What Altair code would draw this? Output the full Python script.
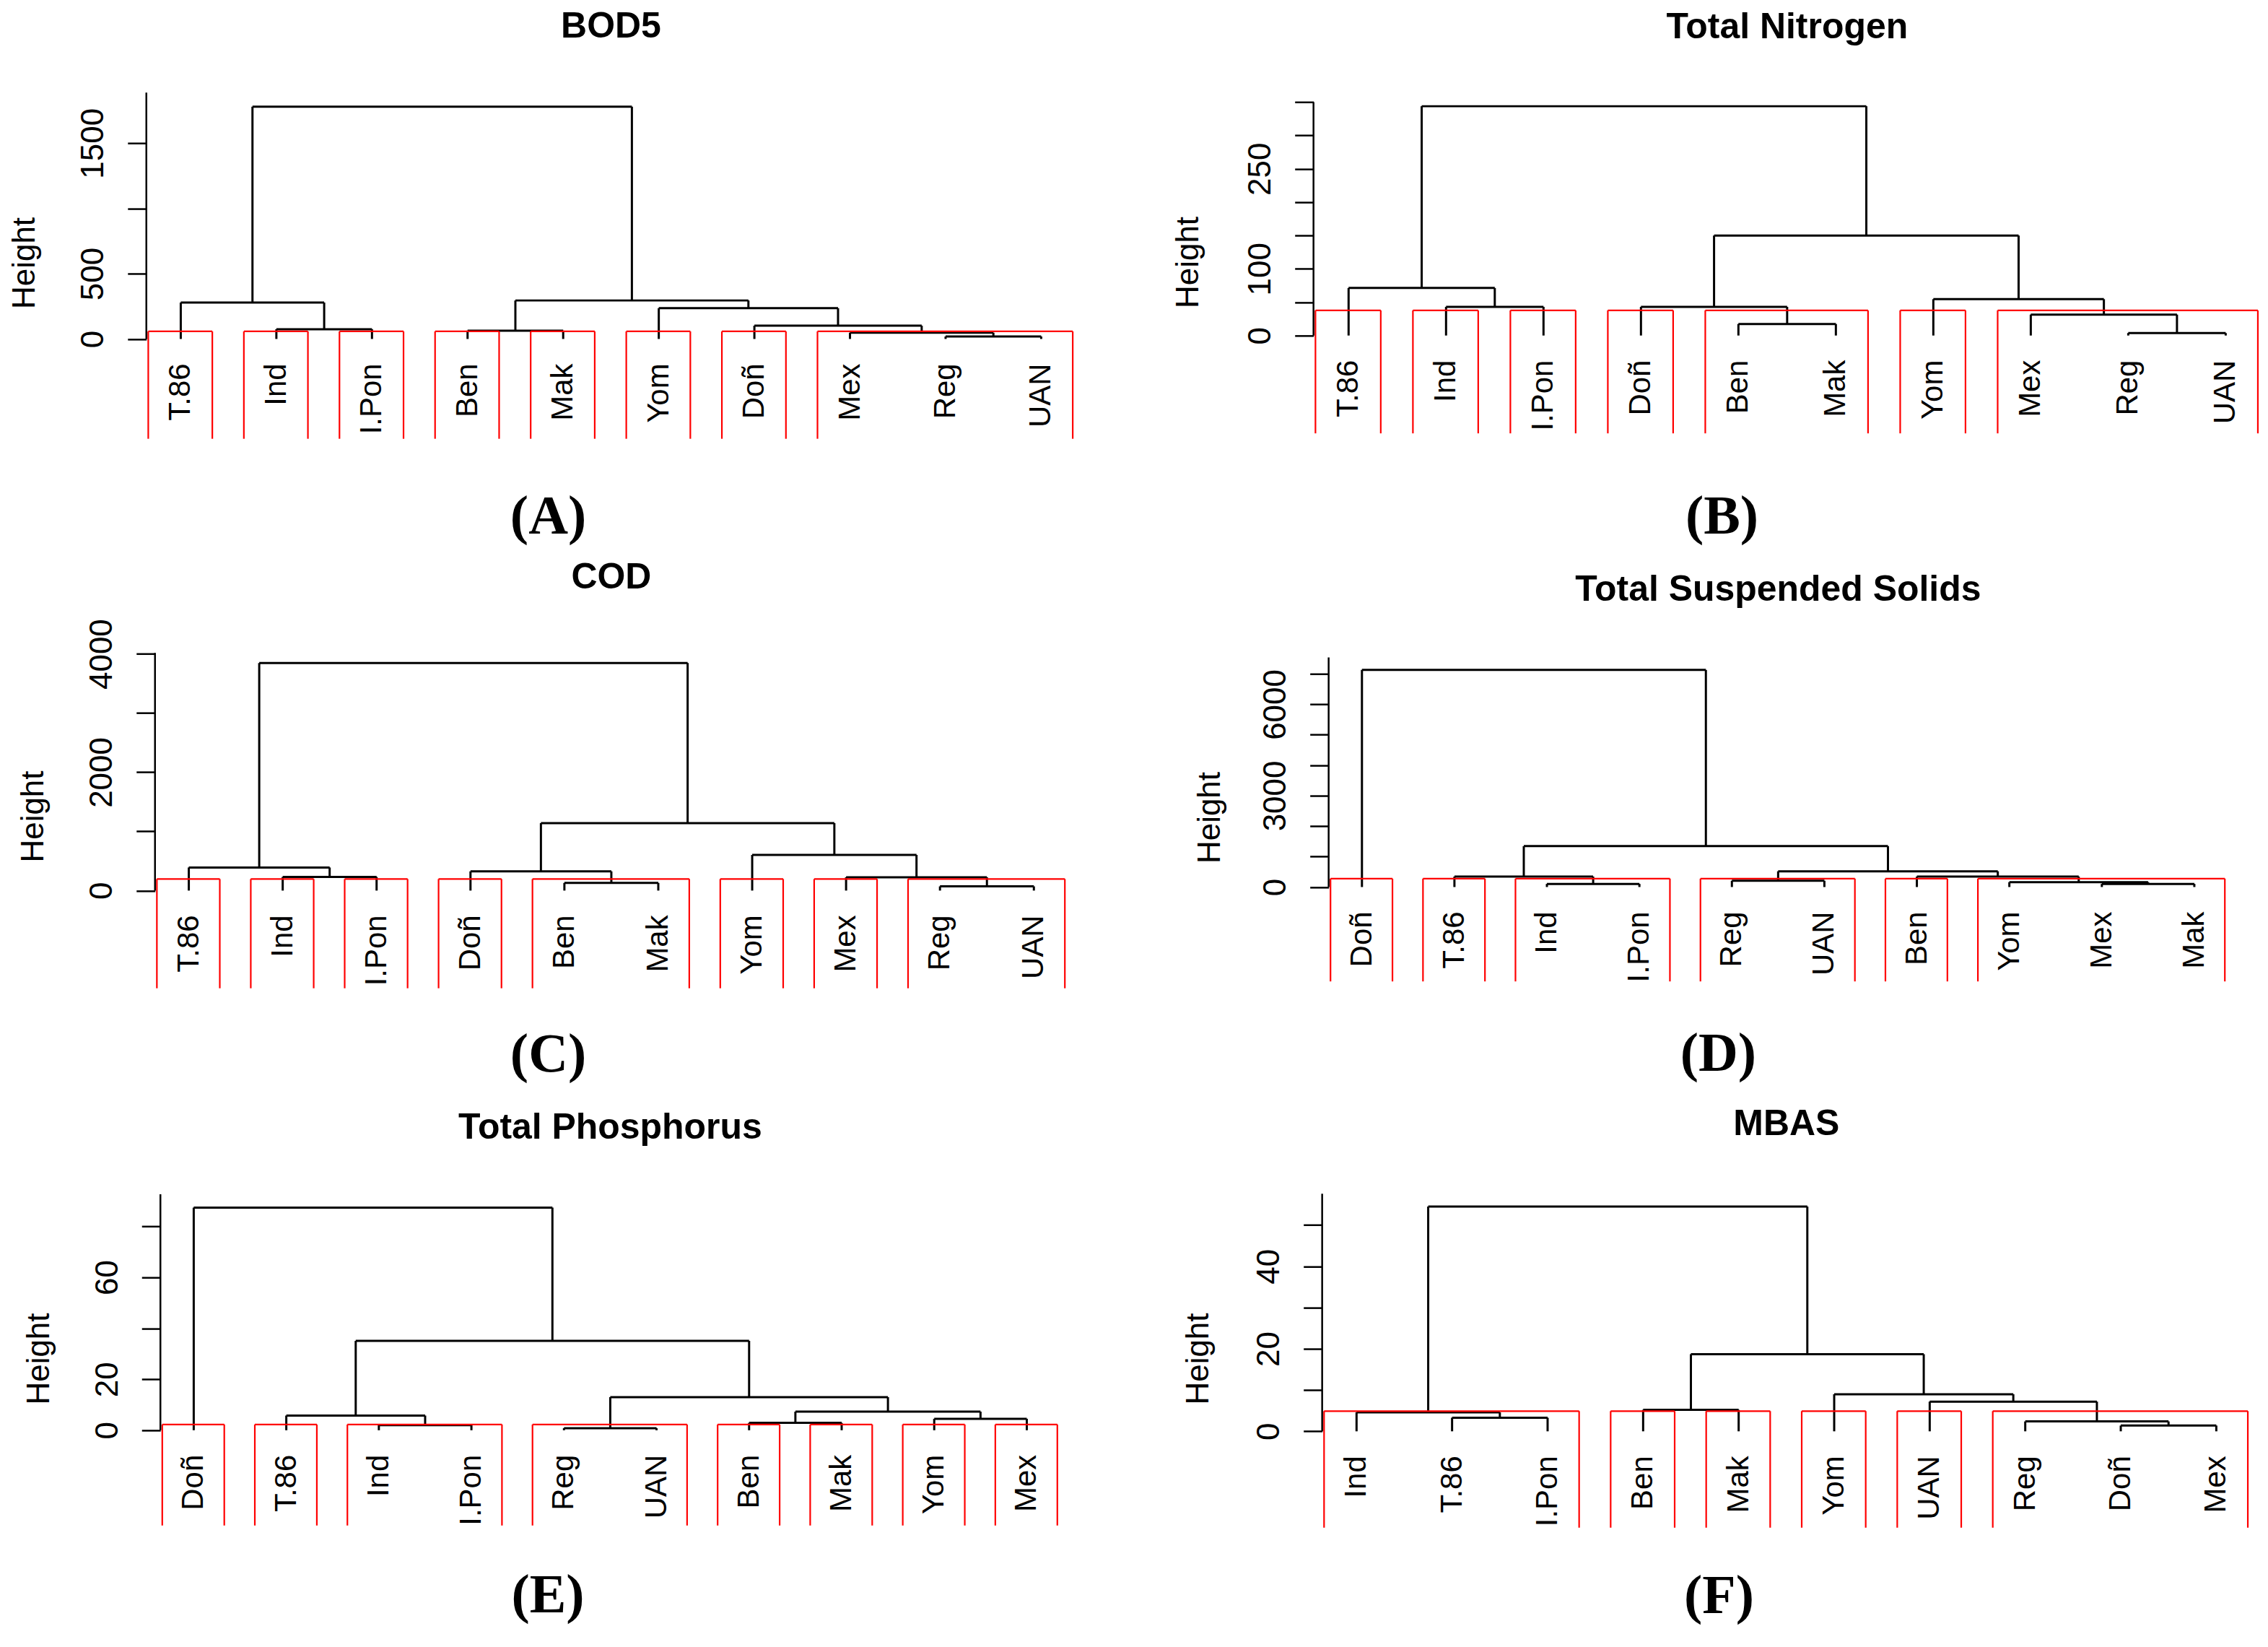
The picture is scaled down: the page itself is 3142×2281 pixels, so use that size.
import altair as alt
import pandas as pd

# ------------------------------------------------------------------
# Data (leaf order, merges in R hclust style:
# negative = leaf position, positive = earlier merge number)
# ------------------------------------------------------------------
A_leaves = ["T.86", "Ind", "I.Pon", "Ben", "Mak", "Yom", "Doñ", "Mex", "Reg", "UAN"]
A_left = [-9, -8, -4, -2, -7, -6, -1, 3, 7]
A_right = [-10, 1, -5, -3, 2, 5, 4, 6, 8]
A_height = [19, 48, 64, 75, 102, 236, 279, 295, 1779]
A_groups = [1, 1, 1, 1, 1, 1, 1, 3]
A_box_top = 58
A_ticks = [0, 500, 1000, 1500]
A_tick_labels = ["0", "500", "", "1500"]

B_leaves = ["T.86", "Ind", "I.Pon", "Doñ", "Ben", "Mak", "Yom", "Mex", "Reg", "UAN"]
B_left = [-9, -5, -8, -4, -2, -7, -1, 4, 7]
B_right = [-10, -6, 1, 2, -3, 3, 5, 6, 8]
B_height = [3.7, 17.3, 31.4, 43.0, 43.0, 54.5, 71.3, 149.9, 343.8]
B_groups = [1, 1, 1, 1, 2, 1, 3]
B_box_top = 37.7
B_ticks = [0, 50, 100, 150, 200, 250, 300, 350]
B_tick_labels = ["0", "", "100", "", "", "250", "", ""]

C_leaves = ["T.86", "Ind", "I.Pon", "Doñ", "Ben", "Mak", "Yom", "Mex", "Reg", "UAN"]
C_left = [-9, -5, -8, -2, -4, -1, -7, 5, 6]
C_right = [-10, -6, 1, -3, 2, 4, 3, 7, 8]
C_height = [71, 130, 225, 230, 325, 390, 603, 1140, 3846]
C_groups = [1, 1, 1, 1, 2, 1, 1, 2]
C_box_top = 195
C_ticks = [0, 1000, 2000, 3000, 4000]
C_tick_labels = ["0", "", "2000", "", "4000"]

D_leaves = ["Doñ", "T.86", "Ind", "I.Pon", "Reg", "UAN", "Ben", "Yom", "Mex", "Mak"]
D_left = [-3, -9, -8, -5, -2, -7, 4, 5, -1]
D_right = [-4, -10, 2, -6, 1, 3, 6, 7, 8]
D_height = [103, 103, 161, 207, 344, 344, 517, 1343, 7130]
D_groups = [1, 1, 2, 2, 1, 3]
D_box_top = 276
D_ticks = [0, 1000, 2000, 3000, 4000, 5000, 6000, 7000]
D_tick_labels = ["0", "", "", "3000", "", "", "6000", ""]

E_leaves = ["Doñ", "T.86", "Ind", "I.Pon", "Reg", "UAN", "Ben", "Mak", "Yom", "Mex"]
E_left = [-5, -3, -7, -9, -2, 3, 1, 5, -1]
E_right = [-6, -4, -8, -10, 2, 4, 6, 7, 8]
E_height = [0.82, 2.0, 2.9, 4.5, 5.76, 7.3, 13.0, 35.1, 87.4]
E_groups = [1, 1, 2, 2, 1, 1, 1, 1]
E_box_top = 2.25
E_ticks = [0, 20, 40, 60, 80]
E_tick_labels = ["0", "20", "", "60", ""]

F_leaves = ["Ind", "T.86", "I.Pon", "Ben", "Mak", "Yom", "UAN", "Reg", "Doñ", "Mex"]
F_left = [-9, -8, -2, -1, -4, -7, -6, 5, 4]
F_right = [-10, 1, -3, 3, -5, 2, 6, 7, 8]
F_height = [1.4, 2.4, 3.3, 4.6, 5.2, 7.2, 9.0, 18.7, 54.5]
F_groups = [3, 1, 1, 1, 1, 3]
F_box_top = 4.9
F_ticks = [0, 10, 20, 30, 40, 50]
F_tick_labels = ["0", "", "20", "", "40", ""]

titles = ["BOD5", "Total Nitrogen", "COD", "Total Suspended Solids", "Total Phosphorus", "MBAS"]
tags = ["(A)", "(B)", "(C)", "(D)", "(E)", "(F)"]

# ------------------------------------------------------------------
# Layout / style parameters (pixels and scale extents)
# w = width from the y axis to the right end; xshift = extra room on the
# left of the axis (axis moved inwards by that many pixels)
# ------------------------------------------------------------------
LAYOUT = [
    dict(w=1289, xshift=0, h=480, ydom=[-764.6, 1887.3], axis_top=1887.3, toff=25, hx=-155, hy=236, tx=557, ty=130.6, spacer=-189),
    dict(w=1314, xshift=0, h=472.5, ydom=[-146.7, 364.2], axis_top=350, toff=25, hx=-160, hy=235, tx=566, ty=138, spacer=None),
    dict(w=1266, xshift=12, h=465, ydom=[-1651, 4015.8], axis_top=4015.8, toff=-8.7, hx=-155, hy=226.5, tx=545, ty=115, spacer=None),
    dict(w=1247, xshift=0, h=455.5, ydom=[-3100, 7688], axis_top=7543, toff=22, hx=-151, hy=228, tx=540, ty=123.5, spacer=None),
    dict(w=1248, xshift=19.5, h=460, ydom=[-37.4, 92.82], axis_top=92.6, toff=26, hx=-155, hy=228.5, tx=537, ty=120, spacer=None),
    dict(w=1288, xshift=0, h=463, ydom=[-23.36, 57.59], axis_top=57.6, toff=30, hx=-158, hy=228.5, tx=550, ty=118, spacer=None),
]

DATA = [
    (A_leaves, A_left, A_right, A_height, A_groups, A_box_top, A_ticks, A_tick_labels),
    (B_leaves, B_left, B_right, B_height, B_groups, B_box_top, B_ticks, B_tick_labels),
    (C_leaves, C_left, C_right, C_height, C_groups, C_box_top, C_ticks, C_tick_labels),
    (D_leaves, D_left, D_right, D_height, D_groups, D_box_top, D_ticks, D_tick_labels),
    (E_leaves, E_left, E_right, E_height, E_groups, E_box_top, E_ticks, E_tick_labels),
    (F_leaves, F_left, F_right, F_height, F_groups, F_box_top, F_ticks, F_tick_labels),
]

SANS = "Liberation Sans"
SERIF = "Liberation Serif"
X_LO, X_HI = 0.64, 10.36   # R's default 4% extension around leaves 1..10


def dendro_df(left, right, heights):
    pos = {}
    rows = []

    def node(i):
        return (float(-i), 0.0) if i < 0 else pos[i]

    for k, (l, r, h) in enumerate(zip(left, right, heights), start=1):
        xl, hl = node(l)
        xr, hr = node(r)
        rows.append(dict(x=xl, x2=xr, y=h, y2=h))
        rows.append(dict(x=xl, x2=xl, y=hl, y2=h))
        rows.append(dict(x=xr, x2=xr, y=hr, y2=h))
        pos[k] = ((xl + xr) / 2.0, h)
    return pd.DataFrame(rows)


def box_df(groups, top, bottom):
    rows = []
    start = 0
    for g in groups:
        l = start + 0.66
        r = start + g + 0.33
        rows.append(dict(x=l, x2=l, y=bottom, y2=top))
        rows.append(dict(x=r, x2=r, y=bottom, y2=top))
        rows.append(dict(x=l, x2=r, y=top, y2=top))
        start += g
    return pd.DataFrame(rows)


def label_expr(vals, labs):
    v = ",".join(str(x) for x in vals)
    l = ",".join("'" + s + "'" for s in labs)
    return f"[{l}][indexof([{v}], datum.value)]"


def make_panel(i):
    leaves, left, right, heights, groups, box_top, ticks, tick_labels = DATA[i]
    p = LAYOUT[i]
    unit = (X_HI - X_LO) / p["w"]
    x_lo = X_LO - p["xshift"] * unit
    xs = alt.Scale(domain=[x_lo, X_HI], nice=False, zero=False)
    ys = alt.Scale(domain=p["ydom"], nice=False, zero=False)
    xaxis = alt.Axis(
        title=tags[i], domain=False, ticks=False, labels=False, grid=False,
        titleFont=SERIF, titleFontSize=76, titleFontWeight="bold", titleColor="black",
        titleX=p["tx"] + p["xshift"], titleY=p["ty"], titleAlign="center",
        titleBaseline="alphabetic", titleAngle=0,
    )
    yaxis = alt.Axis(
        title="Height", values=ticks, labelExpr=label_expr(ticks, tick_labels),
        domain=False, grid=False, tickSize=26, tickWidth=2.5, tickColor="black",
        offset=-p["xshift"],
        labelAngle=270, labelAlign="center", labelBaseline="alphabetic", labelPadding=34,
        labelFont=SANS, labelFontSize=44, labelColor="black", labelOverlap=False,
        labelFlush=False,
        titleFont=SANS, titleFontSize=44, titleFontWeight="normal", titleColor="black",
        titleAngle=270, titleX=p["hx"], titleY=p["hy"], titleAlign="center",
        titleBaseline="alphabetic",
    )
    X = alt.X("x:Q", scale=xs, axis=xaxis)
    Y = alt.Y("y:Q", scale=ys, axis=yaxis)

    segs = dendro_df(left, right, heights)
    boxes = box_df(groups, box_top, p["ydom"][0])
    leaf_df = pd.DataFrame({"x": list(range(1, len(leaves) + 1)), "y": [0.0] * len(leaves), "label": leaves})
    axis_line = pd.DataFrame({"x": [X_LO], "y": [0.0], "y2": [p["axis_top"]]})

    tree = alt.Chart(segs).mark_rule(color="black", strokeWidth=3).encode(
        x=X, x2="x2:Q", y=Y, y2="y2:Q")
    rects = alt.Chart(boxes).mark_rule(color="#FF0000", strokeWidth=2.2).encode(
        x=X, x2="x2:Q", y=Y, y2="y2:Q")
    texts = alt.Chart(leaf_df).mark_text(
        angle=270, align="right", baseline="middle", dx=-34,
        font=SANS, fontSize=42, color="black").encode(x=X, y=Y, text="label:N")
    yline = alt.Chart(axis_line).mark_rule(color="black", strokeWidth=2.5).encode(
        x=X, y=Y, y2="y2:Q")
    layers = [tree, rects, texts, yline]
    if p["spacer"] is not None:
        layers.append(
            alt.Chart(pd.DataFrame({"s": [0]})).mark_text(
                text=" ", opacity=0, fontSize=10, align="left").encode(
                x=alt.value(p["spacer"]), y=alt.value(200)))
    return alt.layer(*layers).properties(
        width=p["w"] + p["xshift"], height=p["h"],
        title=alt.TitleParams(
            text=titles[i], font=SANS, fontSize=50, fontWeight="bold", color="black",
            anchor="middle", frame="group", offset=p["toff"], baseline="alphabetic",
            dx=p["xshift"] / 2.0),
    )


panels = [make_panel(i) for i in range(6)]
row1 = alt.hconcat(panels[0], panels[1], spacing=135)
row2 = alt.hconcat(panels[2], panels[3], spacing=176)
row3 = alt.hconcat(panels[4], panels[5], spacing=170)

lower = alt.concat(row2, row3, columns=1, spacing=33)
chart = alt.concat(row1, lower, columns=1, spacing=22).properties(
    padding={"left": 5, "top": 2, "right": 2, "bottom": 2},
    background="white",
).configure_view(stroke=None)

chart.save("out.html", embed_options={"renderer": "svg", "actions": False})
